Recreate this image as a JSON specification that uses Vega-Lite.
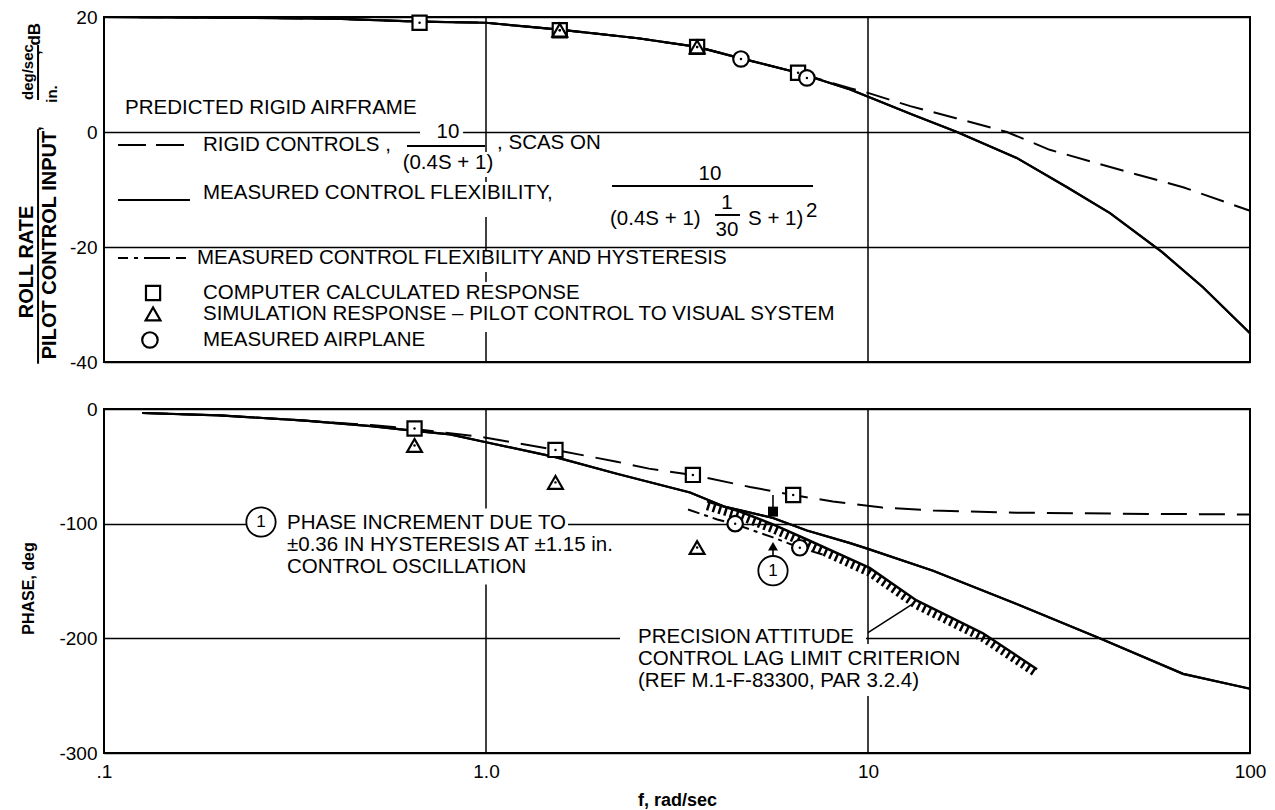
{
  "$schema": "https://vega.github.io/schema/vega-lite/v6.json",
  "width": 1146,
  "height": 736,
  "autosize": {"type": "none"},
  "padding": {"left": 104, "top": 17, "right": 25, "bottom": 57},
  "background": "white",
  "config": {
    "view": {"stroke": null},
    "font": "Liberation Sans",
    "text": {"font": "Liberation Sans", "fontSize": 20.5, "color": "black"},
    "mark": {"color": "black"},
    "axis": {"labelFont": "Liberation Sans", "titleFont": "Liberation Sans", "labelColor": "black", "titleColor": "black", "labelFontSize": 19, "titleFontWeight": "bold"},
    "axisX": {"titleFontSize": 18},
    "axisY": {"titleFontSize": 16}
  },
  "data": {"values": [{}]},
  "datasets": {
    "mag": [
      {"f": 0.1, "db": 20.0, "s": "rigid"}, {"f": 0.2, "db": 19.9, "s": "rigid"}, {"f": 0.4, "db": 19.7, "s": "rigid"},
      {"f": 0.67, "db": 19.2, "s": "rigid"}, {"f": 1.0, "db": 19.0, "s": "rigid"}, {"f": 1.56, "db": 17.8, "s": "rigid"},
      {"f": 2.5, "db": 16.3, "s": "rigid"}, {"f": 3.57, "db": 14.8, "s": "rigid"}, {"f": 4.65, "db": 12.8, "s": "rigid"},
      {"f": 6.56, "db": 10.3, "s": "rigid"}, {"f": 8.98, "db": 7.6, "s": "rigid"}, {"f": 10, "db": 6.8, "s": "rigid"},
      {"f": 12.9, "db": 4.5, "s": "rigid"}, {"f": 17, "db": 2.4, "s": "rigid"}, {"f": 23.1, "db": 0.0, "s": "rigid"},
      {"f": 29.9, "db": -3.1, "s": "rigid"}, {"f": 49.4, "db": -7.2, "s": "rigid"}, {"f": 66.8, "db": -9.6, "s": "rigid"},
      {"f": 100, "db": -13.7, "s": "rigid"},
      {"f": 0.1, "db": 20.0, "s": "flex"}, {"f": 0.2, "db": 19.9, "s": "flex"}, {"f": 0.4, "db": 19.7, "s": "flex"},
      {"f": 0.67, "db": 19.2, "s": "flex"}, {"f": 1.0, "db": 19.0, "s": "flex"}, {"f": 1.56, "db": 17.8, "s": "flex"},
      {"f": 2.5, "db": 16.3, "s": "flex"}, {"f": 3.57, "db": 14.8, "s": "flex"}, {"f": 4.65, "db": 12.8, "s": "flex"},
      {"f": 6.56, "db": 10.3, "s": "flex"}, {"f": 8.98, "db": 7.4, "s": "flex"}, {"f": 10.2, "db": 5.9, "s": "flex"},
      {"f": 13, "db": 3.1, "s": "flex"}, {"f": 17.1, "db": 0.0, "s": "flex"}, {"f": 24.5, "db": -4.5, "s": "flex"},
      {"f": 33.2, "db": -9.6, "s": "flex"}, {"f": 43, "db": -14.1, "s": "flex"}, {"f": 58.9, "db": -20.9, "s": "flex"},
      {"f": 75.3, "db": -27.0, "s": "flex"}, {"f": 100, "db": -35.0, "s": "flex"}
    ],
    "magpts": [
      {"f": 0.67, "db": 19.0, "k": "square"}, {"f": 1.56, "db": 17.7, "k": "square"}, {"f": 3.57, "db": 14.8, "k": "square"},
      {"f": 6.56, "db": 10.3, "k": "square"}, {"f": 1.56, "db": 17.7, "k": "triangle"}, {"f": 3.57, "db": 14.8, "k": "triangle"},
      {"f": 4.65, "db": 12.7, "k": "circle"}, {"f": 6.92, "db": 9.4, "k": "circle"}
    ],
    "phase": [
      {"f": 0.126, "p": -3.5, "s": "rigid"}, {"f": 0.2, "p": -5.5, "s": "rigid"}, {"f": 0.33, "p": -10, "s": "rigid"},
      {"f": 0.5, "p": -14, "s": "rigid"}, {"f": 0.65, "p": -17.4, "s": "rigid"}, {"f": 0.98, "p": -24.5, "s": "rigid"},
      {"f": 1.52, "p": -35.7, "s": "rigid"}, {"f": 2.2, "p": -46, "s": "rigid"}, {"f": 2.67, "p": -52, "s": "rigid"},
      {"f": 3.48, "p": -57.5, "s": "rigid"}, {"f": 4.91, "p": -68, "s": "rigid"}, {"f": 6.37, "p": -75, "s": "rigid"},
      {"f": 8.09, "p": -80.7, "s": "rigid"}, {"f": 10.9, "p": -86, "s": "rigid"}, {"f": 14.8, "p": -88.5, "s": "rigid"},
      {"f": 24.5, "p": -90.4, "s": "rigid"}, {"f": 45, "p": -91.3, "s": "rigid"}, {"f": 100, "p": -92, "s": "rigid"},
      {"f": 0.126, "p": -3.5, "s": "flex"}, {"f": 0.2, "p": -5.5, "s": "flex"}, {"f": 0.33, "p": -10, "s": "flex"},
      {"f": 0.5, "p": -15, "s": "flex"}, {"f": 0.65, "p": -19, "s": "flex"}, {"f": 0.805, "p": -22.2, "s": "flex"},
      {"f": 1.0, "p": -29, "s": "flex"}, {"f": 1.52, "p": -42, "s": "flex"}, {"f": 2.2, "p": -56.5, "s": "flex"},
      {"f": 3.42, "p": -72.8, "s": "flex"}, {"f": 4.2, "p": -85, "s": "flex"}, {"f": 5.64, "p": -95, "s": "flex"},
      {"f": 6.92, "p": -106, "s": "flex"}, {"f": 8.98, "p": -117, "s": "flex"}, {"f": 10, "p": -122, "s": "flex"},
      {"f": 14.8, "p": -141, "s": "flex"}, {"f": 24.5, "p": -170, "s": "flex"}, {"f": 40.4, "p": -200, "s": "flex"},
      {"f": 66.8, "p": -231, "s": "flex"}, {"f": 100, "p": -244, "s": "flex"},
      {"f": 3.38, "p": -87.6, "s": "hyst"}, {"f": 4.03, "p": -96.3, "s": "hyst"}, {"f": 4.49, "p": -100.5, "s": "hyst"},
      {"f": 5.64, "p": -112, "s": "hyst"}, {"f": 6.63, "p": -121, "s": "hyst"}, {"f": 7.8, "p": -128, "s": "hyst"},
      {"f": 3.79, "p": -80.6, "s": "crit"}, {"f": 4.62, "p": -89.4, "s": "crit"}, {"f": 5.64, "p": -100.7, "s": "crit"},
      {"f": 6.92, "p": -113.8, "s": "crit"}, {"f": 10.1, "p": -138.6, "s": "crit"}, {"f": 13.4, "p": -167, "s": "crit"},
      {"f": 20, "p": -195.6, "s": "crit"}, {"f": 27.7, "p": -227, "s": "crit"},
      {"f": 3.79, "p": -84.8, "s": "hatch"}, {"f": 4.62, "p": -93.6, "s": "hatch"}, {"f": 5.64, "p": -104.9, "s": "hatch"},
      {"f": 6.92, "p": -118, "s": "hatch"}, {"f": 10.1, "p": -142.8, "s": "hatch"}, {"f": 13.4, "p": -171.2, "s": "hatch"},
      {"f": 20, "p": -199.8, "s": "hatch"}, {"f": 27.7, "p": -231.2, "s": "hatch"}
    ],
    "phasepts": [
      {"f": 0.65, "p": -17.0, "k": "square"}, {"f": 1.52, "p": -35.7, "k": "square"}, {"f": 3.48, "p": -57.5, "k": "square"},
      {"f": 6.37, "p": -75, "k": "square"}, {"f": 0.65, "p": -31.8, "k": "triangle"}, {"f": 1.52, "p": -64, "k": "triangle"},
      {"f": 3.57, "p": -120.8, "k": "triangle"}, {"f": 4.49, "p": -100, "k": "circle"}, {"f": 6.63, "p": -121, "k": "circle"}
    ]
  },
  "layer": [
    {
      "layer": [
        {
          "data": {"name": "mag"},
          "transform": [{"filter": "datum.s === 'flex'"}],
          "mark": {"type": "line", "strokeWidth": 2.2},
          "encoding": {
            "x": {"field": "f", "type": "quantitative", "scale": {"type": "log", "domain": [0.1, 100], "nice": false}},
            "y": {"field": "db", "type": "quantitative", "scale": {"domain": [-40, 20], "range": [345, 0], "nice": false, "zero": false},
              "axis": {"orient": "left", "values": [-40, -20, 0, 20], "labelExpr": "datum.value < 0 ? '-' + abs(datum.value) : '' + datum.value",
                "grid": true, "gridColor": "black", "gridWidth": 1.5, "gridOpacity": 1,
                "domain": false, "ticks": false, "labelPadding": 7, "labelFontSize": 19, "labelFlush": false, "labelOverlap": false, "title": null}}
          }
        },
        {
          "mark": {"type": "rect", "fillOpacity": 0, "stroke": "black", "strokeWidth": 2},
          "encoding": {
            "x": {"datum": 0.1, "scale": {"type": "log", "domain": [0.1, 100], "nice": false}},
            "x2": {"datum": 100},
            "y": {"datum": -40, "scale": {"domain": [-40, 20], "range": [345, 0], "nice": false, "zero": false}},
            "y2": {"datum": 20}
          }
        },
        {
          "data": {"values": [{"f": 1}, {"f": 10}]},
          "mark": {"type": "rule", "strokeWidth": 1.5},
          "encoding": {
            "x": {"field": "f", "type": "quantitative", "scale": {"type": "log", "domain": [0.1, 100], "nice": false}},
            "y": {"datum": -40, "scale": {"domain": [-40, 20], "range": [345, 0], "nice": false, "zero": false}},
            "y2": {"datum": 20}
          }
        },
        {
          "data": {"values": [
            {"f1": 0.672, "f2": 0.871, "v1": 1.74, "v2": -1.39},
            {"f1": 0.9645, "f2": 1.049, "v1": -3.48, "v2": -7.83},
            {"f1": 0.9645, "f2": 1.049, "v1": -8.7, "v2": -14.78},
            {"f1": 0.9645, "f2": 1.049, "v1": -20.52, "v2": -24.35},
            {"f1": 0.9645, "f2": 1.049, "v1": -26.09, "v2": -34.78}
          ]},
          "mark": {"type": "rect", "fill": "white"},
          "encoding": {
            "x": {"field": "f1", "type": "quantitative", "scale": {"type": "log", "domain": [0.1, 100], "nice": false}},
            "x2": {"field": "f2"},
            "y": {"field": "v1", "type": "quantitative", "scale": {"domain": [-40, 20], "range": [345, 0], "nice": false, "zero": false}},
            "y2": {"field": "v2"}
          }
        },
        {
          "data": {"name": "mag"},
          "transform": [{"filter": "datum.s === 'rigid'"}],
          "mark": {"type": "line", "strokeWidth": 2, "strokeDash": [24, 11]},
          "encoding": {
            "x": {"field": "f", "type": "quantitative", "scale": {"type": "log", "domain": [0.1, 100], "nice": false}},
            "y": {"field": "db", "type": "quantitative", "scale": {"domain": [-40, 20], "range": [345, 0], "nice": false, "zero": false}}
          }
        },
        {
          "data": {"name": "mag"},
          "transform": [{"filter": "datum.s === 'flex'"}],
          "mark": {"type": "line", "strokeWidth": 2.2},
          "encoding": {
            "x": {"field": "f", "type": "quantitative", "scale": {"type": "log", "domain": [0.1, 100], "nice": false}},
            "y": {"field": "db", "type": "quantitative", "scale": {"domain": [-40, 20], "range": [345, 0], "nice": false, "zero": false}}
          }
        },
        {
          "data": {"name": "magpts"},
          "mark": {"type": "point", "filled": false, "fill": "white", "fillOpacity": 1, "stroke": "black", "strokeWidth": 2.2, "opacity": 1},
          "encoding": {
            "x": {"field": "f", "type": "quantitative", "scale": {"type": "log", "domain": [0.1, 100], "nice": false}},
            "y": {"field": "db", "type": "quantitative", "scale": {"domain": [-40, 20], "range": [345, 0], "nice": false, "zero": false}},
            "shape": {"field": "k", "type": "nominal", "scale": {"domain": ["square", "triangle", "circle"], "range": ["square", "triangle-up", "circle"]}, "legend": null},
            "size": {"field": "k", "type": "ordinal", "scale": {"domain": ["square", "triangle", "circle"], "range": [200, 240, 210]}, "legend": null}
          }
        },
        {
          "data": {"name": "magpts"},
          "mark": {"type": "circle", "size": 6, "opacity": 1},
          "encoding": {
            "x": {"field": "f", "type": "quantitative", "scale": {"type": "log", "domain": [0.1, 100], "nice": false}},
            "y": {"field": "db", "type": "quantitative", "scale": {"domain": [-40, 20], "range": [345, 0], "nice": false, "zero": false}}
          }
        },
        {
          "data": {"values": [
            {"f1": 0.1088, "f2": 0.1679, "v": -2.26}
          ]},
          "mark": {"type": "rule", "strokeWidth": 2, "strokeDash": [28, 10]},
          "encoding": {
            "x": {"field": "f1", "type": "quantitative", "scale": {"type": "log", "domain": [0.1, 100], "nice": false}},
            "x2": {"field": "f2"},
            "y": {"field": "v", "type": "quantitative", "scale": {"domain": [-40, 20], "range": [345, 0], "nice": false, "zero": false}}
          }
        },
        {
          "data": {"values": [
            {"f1": 0.1088, "f2": 0.1679, "v": -11.83},
            {"f1": 0.621, "f2": 0.994, "v": -2.43},
            {"f1": 2.137, "f2": 7.18, "v": -9.39},
            {"f1": 3.977, "f2": 4.623, "v": -14.43}
          ]},
          "mark": {"type": "rule", "strokeWidth": 2},
          "encoding": {
            "x": {"field": "f1", "type": "quantitative", "scale": {"type": "log", "domain": [0.1, 100], "nice": false}},
            "x2": {"field": "f2"},
            "y": {"field": "v", "type": "quantitative", "scale": {"domain": [-40, 20], "range": [345, 0], "nice": false, "zero": false}}
          }
        },
        {
          "data": {"values": [
            {"f1": 0.1088, "f2": 0.1679, "v": -21.91}
          ]},
          "mark": {"type": "rule", "strokeWidth": 2, "strokeDash": [10, 6, 4, 6, 26, 6]},
          "encoding": {
            "x": {"field": "f1", "type": "quantitative", "scale": {"type": "log", "domain": [0.1, 100], "nice": false}},
            "x2": {"field": "f2"},
            "y": {"field": "v", "type": "quantitative", "scale": {"domain": [-40, 20], "range": [345, 0], "nice": false, "zero": false}}
          }
        },
        {
          "data": {"values": [
            {"f": 0.1344, "v": -28.0, "k": "square"},
            {"f": 0.1344, "v": -31.65, "k": "triangle"},
            {"f": 0.1319, "v": -36.17, "k": "circle"}
          ]},
          "mark": {"type": "point", "filled": false, "fill": "white", "fillOpacity": 1, "stroke": "black", "strokeWidth": 2.2, "opacity": 1},
          "encoding": {
            "x": {"field": "f", "type": "quantitative", "scale": {"type": "log", "domain": [0.1, 100], "nice": false}},
            "y": {"field": "v", "type": "quantitative", "scale": {"domain": [-40, 20], "range": [345, 0], "nice": false, "zero": false}},
            "shape": {"field": "k", "type": "nominal", "scale": {"domain": ["square", "triangle", "circle"], "range": ["square", "triangle-up", "circle"]}, "legend": null},
            "size": {"field": "k", "type": "ordinal", "scale": {"domain": ["square", "triangle", "circle"], "range": [200, 240, 210]}, "legend": null}
          }
        },
        {
          "data": {"values": [
            {"f": 0.1135, "v": 4.17, "t": "PREDICTED RIGID AIRFRAME"},
            {"f": 0.1816, "v": -2.26, "t": "RIGID CONTROLS ,"},
            {"f": 1.069, "v": -1.91, "t": ", SCAS ON"},
            {"f": 0.1816, "v": -10.61, "t": "MEASURED CONTROL FLEXIBILITY,"},
            {"f": 2.112, "v": -15.13, "t": "(0.4S + 1)"},
            {"f": 4.852, "v": -15.13, "t": "S + 1)"},
            {"f": 6.88, "v": -13.74, "t": "2"},
            {"f": 0.1752, "v": -21.91, "t": "MEASURED CONTROL FLEXIBILITY AND HYSTERESIS"},
            {"f": 0.1816, "v": -28.0, "t": "COMPUTER CALCULATED RESPONSE"},
            {"f": 0.1816, "v": -31.65, "t": "SIMULATION RESPONSE – PILOT CONTROL TO VISUAL SYSTEM"},
            {"f": 0.1816, "v": -36.17, "t": "MEASURED AIRPLANE"}
          ]},
          "mark": {"type": "text", "align": "left", "baseline": "middle"},
          "encoding": {
            "x": {"field": "f", "type": "quantitative", "scale": {"type": "log", "domain": [0.1, 100], "nice": false}},
            "y": {"field": "v", "type": "quantitative", "scale": {"domain": [-40, 20], "range": [345, 0], "nice": false, "zero": false}},
            "text": {"field": "t", "type": "nominal"}
          }
        },
        {
          "data": {"values": [
            {"f": 0.795, "v": 0.0, "t": "10"},
            {"f": 0.795, "v": -5.39, "t": "(0.4S + 1)"},
            {"f": 3.858, "v": -7.3, "t": "10"},
            {"f": 4.275, "v": -12.35, "t": "1"},
            {"f": 4.275, "v": -17.04, "t": "30"}
          ]},
          "mark": {"type": "text", "align": "center", "baseline": "middle"},
          "encoding": {
            "x": {"field": "f", "type": "quantitative", "scale": {"type": "log", "domain": [0.1, 100], "nice": false}},
            "y": {"field": "v", "type": "quantitative", "scale": {"domain": [-40, 20], "range": [345, 0], "nice": false, "zero": false}},
            "text": {"field": "t", "type": "nominal"}
          }
        },
        {
          "data": {"values": [
            {"f": 0.06286, "v": -22.6, "t": "ROLL RATE"},
            {"f": 0.07222, "v": -19.65, "t": "PILOT CONTROL INPUT"}
          ]},
          "mark": {"type": "text", "align": "center", "baseline": "middle", "angle": 270, "fontSize": 20, "fontWeight": "bold"},
          "encoding": {
            "x": {"field": "f", "type": "quantitative", "scale": {"type": "log", "domain": [0.1, 100], "nice": false}},
            "y": {"field": "v", "type": "quantitative", "scale": {"domain": [-40, 20], "range": [345, 0], "nice": false, "zero": false}},
            "text": {"field": "t", "type": "nominal"}
          }
        },
        {
          "data": {"values": [
            {"f": 0.0632, "v": 10.43, "t": "deg/sec"},
            {"f": 0.0731, "v": 6.61, "t": "in."}
          ]},
          "mark": {"type": "text", "align": "center", "baseline": "middle", "angle": 270, "fontSize": 15, "fontWeight": "bold"},
          "encoding": {
            "x": {"field": "f", "type": "quantitative", "scale": {"type": "log", "domain": [0.1, 100], "nice": false}},
            "y": {"field": "v", "type": "quantitative", "scale": {"domain": [-40, 20], "range": [345, 0], "nice": false, "zero": false}},
            "text": {"field": "t", "type": "nominal"}
          }
        },
        {
          "data": {"values": [
            {"f": 0.06597, "v": 13.39, "t": ", dB"},
            {"f": 0.0664, "v": 0.17, "t": ","}
          ]},
          "mark": {"type": "text", "align": "left", "baseline": "middle", "angle": 270, "fontSize": 17, "fontWeight": "bold"},
          "encoding": {
            "x": {"field": "f", "type": "quantitative", "scale": {"type": "log", "domain": [0.1, 100], "nice": false}},
            "y": {"field": "v", "type": "quantitative", "scale": {"domain": [-40, 20], "range": [345, 0], "nice": false, "zero": false}},
            "text": {"field": "t", "type": "nominal"}
          }
        },
        {
          "data": {"values": [
            {"f": 0.0672, "v1": 0.5, "v2": -40.3},
            {"f": 0.0672, "v1": 15.13, "v2": 5.57}
          ]},
          "mark": {"type": "rule", "strokeWidth": 2},
          "encoding": {
            "x": {"field": "f", "type": "quantitative", "scale": {"type": "log", "domain": [0.1, 100], "nice": false}},
            "y": {"field": "v1", "type": "quantitative", "scale": {"domain": [-40, 20], "range": [345, 0], "nice": false, "zero": false}},
            "y2": {"field": "v2"}
          }
        }
      ]
    },
    {
      "layer": [
        {
          "data": {"name": "phase"},
          "transform": [{"filter": "datum.s === 'flex'"}],
          "mark": {"type": "line", "strokeWidth": 2.2},
          "encoding": {
            "x": {"field": "f", "type": "quantitative", "scale": {"type": "log", "domain": [0.1, 100], "nice": false},
              "axis": {"orient": "bottom", "values": [0.1, 1, 10, 100], "labelExpr": "datum.value < 0.5 ? '.1' : datum.value < 5 ? '1.0' : datum.value < 50 ? '10' : '100'",
                "grid": false, "domain": false, "ticks": false, "labelPadding": 9, "labelFontSize": 19, "labelFlush": false, "labelOverlap": false,
                "title": "f, rad/sec", "titleFontSize": 18, "titleFontWeight": "bold", "titlePadding": 10}},
            "y": {"field": "p", "type": "quantitative", "scale": {"domain": [-300, 0], "range": [736, 392], "nice": false, "zero": false},
              "axis": {"orient": "left", "values": [-300, -200, -100, 0], "labelExpr": "datum.value < 0 ? '-' + abs(datum.value) : '' + datum.value",
                "grid": true, "gridColor": "black", "gridWidth": 1.5, "gridOpacity": 1,
                "domain": false, "ticks": false, "labelPadding": 7, "labelFontSize": 19, "labelFlush": false, "labelOverlap": false,
                "title": "PHASE, deg", "titleFontSize": 16, "titleFontWeight": "bold", "titleX": -76, "titleY": 571, "titleAngle": 270, "titleAlign": "center", "titleBaseline": "middle"}}
          }
        },
        {
          "mark": {"type": "rect", "fillOpacity": 0, "stroke": "black", "strokeWidth": 2},
          "encoding": {
            "x": {"datum": 0.1, "scale": {"type": "log", "domain": [0.1, 100], "nice": false}},
            "x2": {"datum": 100},
            "y": {"datum": -300, "scale": {"domain": [-300, 0], "range": [736, 392], "nice": false, "zero": false}},
            "y2": {"datum": 0}
          }
        },
        {
          "data": {"values": [{"f": 1}, {"f": 10}]},
          "mark": {"type": "rule", "strokeWidth": 1.5},
          "encoding": {
            "x": {"field": "f", "type": "quantitative", "scale": {"type": "log", "domain": [0.1, 100], "nice": false}},
            "y": {"datum": -300, "scale": {"domain": [-300, 0], "range": [736, 392], "nice": false, "zero": false}},
            "y2": {"datum": 0}
          }
        },
        {
          "data": {"values": [
            {"f1": 0.2382, "f2": 1.64, "v1": -86.7, "v2": -153},
            {"f1": 2.243, "f2": 9.88, "v1": -188.3, "v2": -250.2},
            {"f1": 9.88, "f2": 19.05, "v1": -204.9, "v2": -250.2}
          ]},
          "mark": {"type": "rect", "fill": "white"},
          "encoding": {
            "x": {"field": "f1", "type": "quantitative", "scale": {"type": "log", "domain": [0.1, 100], "nice": false}},
            "x2": {"field": "f2"},
            "y": {"field": "v1", "type": "quantitative", "scale": {"domain": [-300, 0], "range": [736, 392], "nice": false, "zero": false}},
            "y2": {"field": "v2"}
          }
        },
        {
          "data": {"name": "phase"},
          "transform": [{"filter": "datum.s === 'rigid'"}],
          "mark": {"type": "line", "strokeWidth": 2, "strokeDash": [26, 12]},
          "encoding": {
            "x": {"field": "f", "type": "quantitative", "scale": {"type": "log", "domain": [0.1, 100], "nice": false}},
            "y": {"field": "p", "type": "quantitative", "scale": {"domain": [-300, 0], "range": [736, 392], "nice": false, "zero": false}}
          }
        },
        {
          "data": {"name": "phase"},
          "transform": [{"filter": "datum.s === 'flex'"}],
          "mark": {"type": "line", "strokeWidth": 2.2},
          "encoding": {
            "x": {"field": "f", "type": "quantitative", "scale": {"type": "log", "domain": [0.1, 100], "nice": false}},
            "y": {"field": "p", "type": "quantitative", "scale": {"domain": [-300, 0], "range": [736, 392], "nice": false, "zero": false}}
          }
        },
        {
          "data": {"name": "phase"},
          "transform": [{"filter": "datum.s === 'hyst'"}],
          "mark": {"type": "line", "strokeWidth": 2, "strokeDash": [12, 5, 4, 5]},
          "encoding": {
            "x": {"field": "f", "type": "quantitative", "scale": {"type": "log", "domain": [0.1, 100], "nice": false}},
            "y": {"field": "p", "type": "quantitative", "scale": {"domain": [-300, 0], "range": [736, 392], "nice": false, "zero": false}}
          }
        },
        {
          "data": {"name": "phase"},
          "transform": [{"filter": "datum.s === 'crit'"}],
          "mark": {"type": "line", "strokeWidth": 2.5},
          "encoding": {
            "x": {"field": "f", "type": "quantitative", "scale": {"type": "log", "domain": [0.1, 100], "nice": false}},
            "y": {"field": "p", "type": "quantitative", "scale": {"domain": [-300, 0], "range": [736, 392], "nice": false, "zero": false}}
          }
        },
        {
          "data": {"name": "phase"},
          "transform": [{"filter": "datum.s === 'hatch'"}],
          "mark": {"type": "line", "strokeWidth": 8, "strokeDash": [2.5, 3.5]},
          "encoding": {
            "x": {"field": "f", "type": "quantitative", "scale": {"type": "log", "domain": [0.1, 100], "nice": false}},
            "y": {"field": "p", "type": "quantitative", "scale": {"domain": [-300, 0], "range": [736, 392], "nice": false, "zero": false}}
          }
        },
        {
          "data": {"name": "phasepts"},
          "mark": {"type": "point", "filled": false, "fill": "white", "fillOpacity": 1, "stroke": "black", "strokeWidth": 2.2, "opacity": 1},
          "encoding": {
            "x": {"field": "f", "type": "quantitative", "scale": {"type": "log", "domain": [0.1, 100], "nice": false}},
            "y": {"field": "p", "type": "quantitative", "scale": {"domain": [-300, 0], "range": [736, 392], "nice": false, "zero": false}},
            "shape": {"field": "k", "type": "nominal", "scale": {"domain": ["square", "triangle", "circle"], "range": ["square", "triangle-up", "circle"]}, "legend": null},
            "size": {"field": "k", "type": "ordinal", "scale": {"domain": ["square", "triangle", "circle"], "range": [200, 240, 210]}, "legend": null}
          }
        },
        {
          "data": {"name": "phasepts"},
          "mark": {"type": "circle", "size": 6, "opacity": 1},
          "encoding": {
            "x": {"field": "f", "type": "quantitative", "scale": {"type": "log", "domain": [0.1, 100], "nice": false}},
            "y": {"field": "p", "type": "quantitative", "scale": {"domain": [-300, 0], "range": [736, 392], "nice": false, "zero": false}}
          }
        },
        {
          "data": {"values": [
            {"f1": 5.64, "f2": 5.64, "v1": -75, "v2": -86},
            {"f1": 5.64, "f2": 5.64, "v1": -128.4, "v2": -122},
            {"f1": 10.0, "f2": 13.1, "v1": -195, "v2": -170}
          ]},
          "mark": {"type": "rule", "strokeWidth": 1.6},
          "encoding": {
            "x": {"field": "f1", "type": "quantitative", "scale": {"type": "log", "domain": [0.1, 100], "nice": false}},
            "x2": {"field": "f2"},
            "y": {"field": "v1", "type": "quantitative", "scale": {"domain": [-300, 0], "range": [736, 392], "nice": false, "zero": false}},
            "y2": {"field": "v2"}
          }
        },
        {
          "data": {"values": [
            {"f": 5.64, "v": -89.5, "k": "down"},
            {"f": 5.64, "v": -119.7, "k": "up"}
          ]},
          "mark": {"type": "point", "filled": true, "size": 100, "opacity": 1},
          "encoding": {
            "x": {"field": "f", "type": "quantitative", "scale": {"type": "log", "domain": [0.1, 100], "nice": false}},
            "y": {"field": "v", "type": "quantitative", "scale": {"domain": [-300, 0], "range": [736, 392], "nice": false, "zero": false}},
            "shape": {"field": "k", "type": "nominal", "scale": {"domain": ["down", "up"], "range": ["M-0.8,-1L0.8,-1L0,1Z", "M-0.8,1L0.8,1L0,-1Z"]}, "legend": null}
          }
        },
        {
          "data": {"values": [
            {"f": 0.2576, "v": -98.5},
            {"f": 5.64, "v": -141}
          ]},
          "mark": {"type": "point", "shape": "circle", "size": 860, "filled": false, "fill": "white", "fillOpacity": 1, "stroke": "black", "strokeWidth": 1.8, "opacity": 1},
          "encoding": {
            "x": {"field": "f", "type": "quantitative", "scale": {"type": "log", "domain": [0.1, 100], "nice": false}},
            "y": {"field": "v", "type": "quantitative", "scale": {"domain": [-300, 0], "range": [736, 392], "nice": false, "zero": false}}
          }
        },
        {
          "data": {"values": [
            {"f": 0.2576, "v": -98.5, "t": "1"},
            {"f": 5.64, "v": -141, "t": "1"}
          ]},
          "mark": {"type": "text", "align": "center", "baseline": "middle", "fontSize": 17},
          "encoding": {
            "x": {"field": "f", "type": "quantitative", "scale": {"type": "log", "domain": [0.1, 100], "nice": false}},
            "y": {"field": "v", "type": "quantitative", "scale": {"domain": [-300, 0], "range": [736, 392], "nice": false, "zero": false}},
            "text": {"field": "t", "type": "nominal"}
          }
        },
        {
          "mark": {"type": "text", "align": "left", "baseline": "middle", "lineHeight": 22},
          "encoding": {
            "x": {"datum": 0.3013, "scale": {"type": "log", "domain": [0.1, 100], "nice": false}},
            "y": {"datum": -99.5, "scale": {"domain": [-300, 0], "range": [736, 392], "nice": false, "zero": false}},
            "text": {"value": ["PHASE INCREMENT DUE TO", "±0.36 IN HYSTERESIS AT ±1.15 in.", "CONTROL OSCILLATION"]}
          }
        },
        {
          "mark": {"type": "text", "align": "left", "baseline": "middle", "lineHeight": 22},
          "encoding": {
            "x": {"datum": 2.5, "scale": {"type": "log", "domain": [0.1, 100], "nice": false}},
            "y": {"datum": -198.8, "scale": {"domain": [-300, 0], "range": [736, 392], "nice": false, "zero": false}},
            "text": {"value": ["PRECISION ATTITUDE", "CONTROL LAG LIMIT CRITERION", "(REF M.1-F-83300, PAR 3.2.4)"]}
          }
        }
      ]
    }
  ],
  "resolve": {"scale": {"y": "independent"}, "axis": {"y": "independent"}}
}
